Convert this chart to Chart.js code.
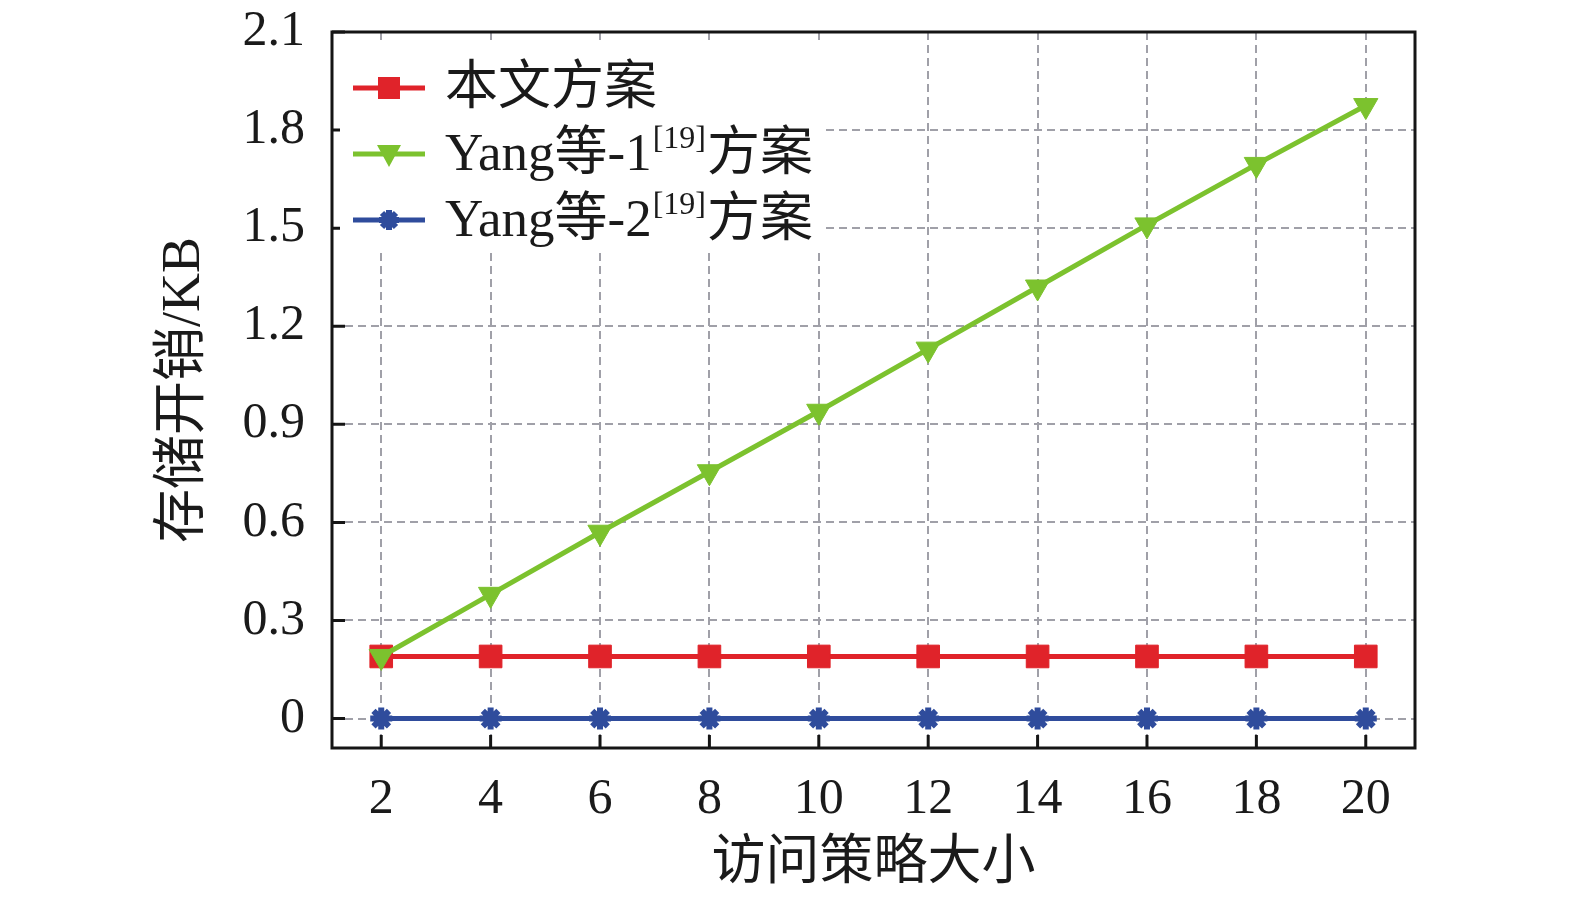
<!DOCTYPE html>
<html>
<head>
<meta charset="utf-8">
<script src="https://cdn.jsdelivr.net/npm/chart.js@4/dist/chart.umd.min.js"></script>
<style>
  html, body { margin: 0; padding: 0; background: #fff; }
  #wrap { width: 1575px; height: 901px; position: relative; }
</style>
</head>
<body>
<div id="wrap"><canvas id="chart"></canvas></div>
<script>
// Data
const policySizes = [2, 4, 6, 8, 10, 12, 14, 16, 18, 20];
const oursKB  = [0.19, 0.19, 0.19, 0.19, 0.19, 0.19, 0.19, 0.19, 0.19, 0.19];
const yang1KB = [0.19, 0.38, 0.57, 0.755, 0.94, 1.13, 1.32, 1.51, 1.695, 1.875];
const yang2KB = [0, 0, 0, 0, 0, 0, 0, 0, 0, 0];
const yTicks = [0, 0.3, 0.6, 0.9, 1.2, 1.5, 1.8, 2.1];

const seriesNames = ['本文方案', 'Yang等-1', 'Yang等-2'];
const citeMark = '[19]';
const nameSuffix = '方案';
const xTitle = '访问策略大小';
const yTitle = '存储开销/KB';

const RED = '#e0232a';
const GREEN = '#7cc22e';
const BLUE = '#2f4c9c';
const SERIF = "'Liberation Serif', 'Noto Sans CJK SC', serif";

// draw a small marker shape (legend)
function marker(ctx, style, x, y, color) {
    ctx.fillStyle = color;
    ctx.strokeStyle = color;
    if (style === 'rect') {
        ctx.fillRect(x - 11, y - 11, 22, 22);
    } else if (style === 'triangle') {
        ctx.beginPath();
        ctx.moveTo(x - 12, y - 9);
        ctx.lineTo(x + 12, y - 9);
        ctx.lineTo(x, y + 13);
        ctx.closePath();
        ctx.fill();
    } else {
        ctx.lineWidth = 6;
        ctx.beginPath();
        ctx.moveTo(x - 10, y); ctx.lineTo(x + 10, y);
        ctx.moveTo(x, y - 10); ctx.lineTo(x, y + 10);
        ctx.moveTo(x - 7, y - 7); ctx.lineTo(x + 7, y + 7);
        ctx.moveTo(x - 7, y + 7); ctx.lineTo(x + 7, y - 7);
        ctx.stroke();
    }
}

// frame, inward tick marks and the legend box
const frameAndLegend = {
    id: 'frameAndLegend',
    afterDatasetsDraw(chart) {
        const { ctx, chartArea: a, scales: { x, y } } = chart;
        ctx.save();
        ctx.strokeStyle = '#151515';
        ctx.lineWidth = 3;
        ctx.beginPath();
        policySizes.forEach(v => {
            const px = x.getPixelForValue(v);
            ctx.moveTo(px, a.bottom);
            ctx.lineTo(px, a.bottom - 13);
        });
        yTicks.forEach(v => {
            const py = y.getPixelForValue(v);
            ctx.moveTo(a.left, py);
            ctx.lineTo(a.left + 13, py);
        });
        ctx.stroke();
        ctx.strokeRect(a.left, a.top, a.right - a.left, a.bottom - a.top);

        // legend
        ctx.fillStyle = '#fff';
        ctx.fillRect(a.left + 8, a.top + 12, 482, 206);
        const rows = [
            { name: seriesNames[0], cite: false, color: RED, style: 'rect' },
            { name: seriesNames[1], cite: true, color: GREEN, style: 'triangle' },
            { name: seriesNames[2], cite: true, color: BLUE, style: 'star' }
        ];
        rows.forEach((r, i) => {
            const ry = a.top + 56 + i * 66;
            ctx.strokeStyle = r.color;
            ctx.lineWidth = 5;
            ctx.beginPath();
            ctx.moveTo(a.left + 21, ry);
            ctx.lineTo(a.left + 93, ry);
            ctx.stroke();
            marker(ctx, r.style, a.left + 57, ry, r.color);

            let tx = a.left + 113;
            ctx.fillStyle = '#1a1a1a';
            ctx.textBaseline = 'middle';
            ctx.textAlign = 'left';
            ctx.font = '53px ' + SERIF;
            ctx.fillText(r.name, tx, ry + 2);
            tx += ctx.measureText(r.name).width;
            if (r.cite) {
                ctx.font = '32px ' + SERIF;
                ctx.fillText(citeMark, tx + 1, ry - 14);
                tx += ctx.measureText(citeMark).width + 2;
                ctx.font = '53px ' + SERIF;
                ctx.fillText(nameSuffix, tx, ry + 2);
            }
        });
        ctx.restore();
    }
};

new Chart(document.getElementById('chart'), {
    type: 'line',
    data: {
        datasets: [
            {
                label: seriesNames[0],
                data: policySizes.map((v, i) => ({ x: v, y: oursKB[i] })),
                borderColor: RED, backgroundColor: RED,
                borderWidth: 5, pointStyle: 'rect', pointRadius: 16,
                pointBorderWidth: 1, order: 2
            },
            {
                label: seriesNames[1],
                data: policySizes.map((v, i) => ({ x: v, y: yang1KB[i] })),
                borderColor: GREEN, backgroundColor: GREEN,
                borderWidth: 5, pointStyle: 'triangle', pointRotation: 180,
                pointRadius: 14, pointBorderWidth: 1, order: 1
            },
            {
                label: seriesNames[2],
                data: policySizes.map((v, i) => ({ x: v, y: yang2KB[i] })),
                borderColor: BLUE, backgroundColor: BLUE,
                borderWidth: 5, pointStyle: 'star', pointRadius: 11,
                pointBorderWidth: 6, order: 3
            }
        ]
    },
    options: {
        responsive: true,
        maintainAspectRatio: false,
        animation: false,
        layout: { padding: { top: 32, right: 160, bottom: 0, left: 0 } },
        plugins: { legend: { display: false }, tooltip: { enabled: false } },
        scales: {
            x: {
                type: 'linear',
                min: 1.1, max: 20.9,
                afterBuildTicks: s => { s.ticks = policySizes.map(v => ({ value: v })); },
                afterFit: s => { s.height = 153; s.paddingLeft = 0; s.paddingRight = 0; },
                grid: { color: '#a0a0a8', lineWidth: 2, drawTicks: false },
                border: { display: false, dash: [8, 5] },
                ticks: { color: '#1a1a1a', padding: 22, maxRotation: 0, font: { size: 50, family: SERIF } },
                title: {
                    display: true, text: xTitle, color: '#1a1a1a',
                    font: { size: 54, family: SERIF }, padding: { top: 0, bottom: 4 }
                }
            },
            y: {
                min: -0.09, max: 2.1,
                afterBuildTicks: s => { s.ticks = yTicks.map(v => ({ value: v })); },
                afterFit: s => { s.width = 332; s.paddingTop = 0; s.paddingBottom = 0; },
                grid: { color: '#a0a0a8', lineWidth: 2, drawTicks: false },
                border: { display: false, dash: [8, 5] },
                ticks: {
                    color: '#1a1a1a', padding: 27,
                    font: { size: 50, family: SERIF },
                    callback: v => v === 0 ? '0' : v.toFixed(1)
                },
                title: {
                    display: true, text: yTitle, color: '#1a1a1a',
                    font: { size: 54, family: SERIF }, padding: { top: 152, bottom: 0 }
                }
            }
        }
    },
    plugins: [frameAndLegend]
});
</script>
</body>
</html>
